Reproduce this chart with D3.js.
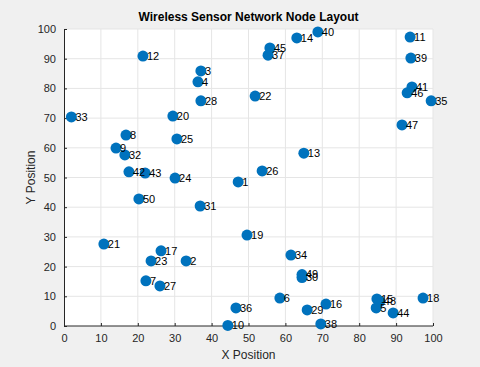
<!DOCTYPE html>
<html>
<head>
<meta charset="utf-8">
<script src="https://cdn.jsdelivr.net/npm/d3@7"></script>
<style>
  body { margin: 0; background: #f0f0f0; }
  svg { display: block; font-family: "Liberation Sans", Arial, sans-serif; }
</style>
</head>
<body>
<script>
const width = 480;
const height = 367;

// node ids and positions
const nodeIds = d3.range(1, 51);
const xPos = [47.2, 33.1, 37.1, 36.3, 84.6, 58.5, 22.2, 16.8, 14.1, 44.4,
              93.8, 21.4, 65.0, 63.1, 84.8, 71.0, 26.3, 97.3, 49.6, 29.5,
              10.8, 51.8, 23.6, 30.1, 30.6, 53.7, 26.0, 37.1, 65.9, 64.5,
              36.9, 16.5, 2.0, 61.5, 99.5, 46.6, 55.3, 69.6, 94.0, 68.8,
              94.3, 17.6, 22.0, 89.2, 55.8, 93.0, 91.6, 85.6, 64.5, 20.3];
const yPos = [48.5, 21.9, 85.9, 82.2, 6.1, 9.4, 15.2, 64.3, 59.9, 0.2,
              97.3, 90.9, 58.2, 97.0, 9.1, 7.4, 25.3, 9.4, 30.6, 70.7,
              27.6, 77.4, 21.9, 49.8, 63.0, 52.2, 13.5, 75.8, 5.4, 16.3,
              40.4, 57.6, 70.4, 23.9, 75.8, 6.1, 91.2, 0.7, 90.2, 99.0,
              80.5, 51.9, 51.5, 4.4, 93.6, 78.5, 67.7, 8.3, 17.3, 42.8];
const xTicks = d3.range(0, 101, 10);
const yTicks = d3.range(0, 101, 10);

const nodes = nodeIds.map((id, i) => ({ id: id, x: xPos[i], y: yPos[i] }));

const margin = { top: 29, right: 47, bottom: 41, left: 64 };
const iw = width - margin.left - margin.right;
const ih = height - margin.top - margin.bottom;

const svg = d3.select("body").append("svg")
  .attr("width", width)
  .attr("height", height);

svg.append("rect")
  .attr("width", width).attr("height", height)
  .attr("fill", "#f0f0f0");

const g = svg.append("g")
  .attr("transform", "translate(" + margin.left + "," + margin.top + ")");

const x = d3.scaleLinear().domain([0, 100]).range([0, iw]);
const y = d3.scaleLinear().domain([0, 100]).range([ih, 0]);

g.append("rect").attr("width", iw).attr("height", ih).attr("fill", "white");

// grid
g.selectAll("line.vgrid")
  .data(xTicks.slice(1))
  .join("line")
  .attr("class", "vgrid")
  .attr("x1", (d) => x(d)).attr("x2", (d) => x(d))
  .attr("y1", 0).attr("y2", ih)
  .attr("stroke", "#e5e5e5");
g.selectAll("line.hgrid")
  .data(yTicks.slice(1))
  .join("line")
  .attr("class", "hgrid")
  .attr("y1", (d) => y(d)).attr("y2", (d) => y(d))
  .attr("x1", 0).attr("x2", iw)
  .attr("stroke", "#e5e5e5");

// axes
const xAxis = g.append("g")
  .attr("transform", "translate(0," + ih + ")")
  .call(d3.axisBottom(x).tickValues(xTicks).tickSize(-3).tickPadding(8));
const yAxis = g.append("g")
  .call(d3.axisLeft(y).tickValues(yTicks).tickSize(-3).tickPadding(8));

[xAxis, yAxis].forEach((a) => {
  a.selectAll("path, line").attr("stroke", "#262626");
  a.selectAll("text")
    .attr("fill", "#262626")
    .style("font-size", "11px")
    .style("font-family", "'Liberation Sans', Arial, sans-serif");
});
xAxis.select("path").attr("d", "M0.5,0H" + iw);
yAxis.select("path").attr("d", "M0.5,0V" + ih);

// points
g.selectAll("circle.node")
  .data(nodes)
  .join("circle")
  .attr("class", "node")
  .attr("cx", (d) => x(d.x))
  .attr("cy", (d) => y(d.y))
  .attr("r", 5.5)
  .attr("fill", "#0072bd");

g.selectAll("text.lbl")
  .data(nodes)
  .join("text")
  .attr("class", "lbl")
  .attr("x", (d) => x(d.x) + 4)
  .attr("y", (d) => y(d.y))
  .attr("dy", "0.35em")
  .attr("font-size", "11px")
  .attr("fill", "black")
  .text((d) => d.id);

// title and labels
svg.append("text")
  .attr("x", margin.left + iw / 2)
  .attr("y", 21)
  .attr("text-anchor", "middle")
  .attr("font-size", "12px")
  .attr("font-weight", "bold")
  .attr("fill", "black")
  .text("Wireless Sensor Network Node Layout");

svg.append("text")
  .attr("x", margin.left + iw / 2)
  .attr("y", 359)
  .attr("text-anchor", "middle")
  .attr("font-size", "12px")
  .attr("fill", "#262626")
  .text("X Position");

svg.append("text")
  .attr("transform", "translate(35," + (margin.top + ih / 2) + ") rotate(-90)")
  .attr("text-anchor", "middle")
  .attr("font-size", "12px")
  .attr("fill", "#262626")
  .text("Y Position");
</script>
</body>
</html>
